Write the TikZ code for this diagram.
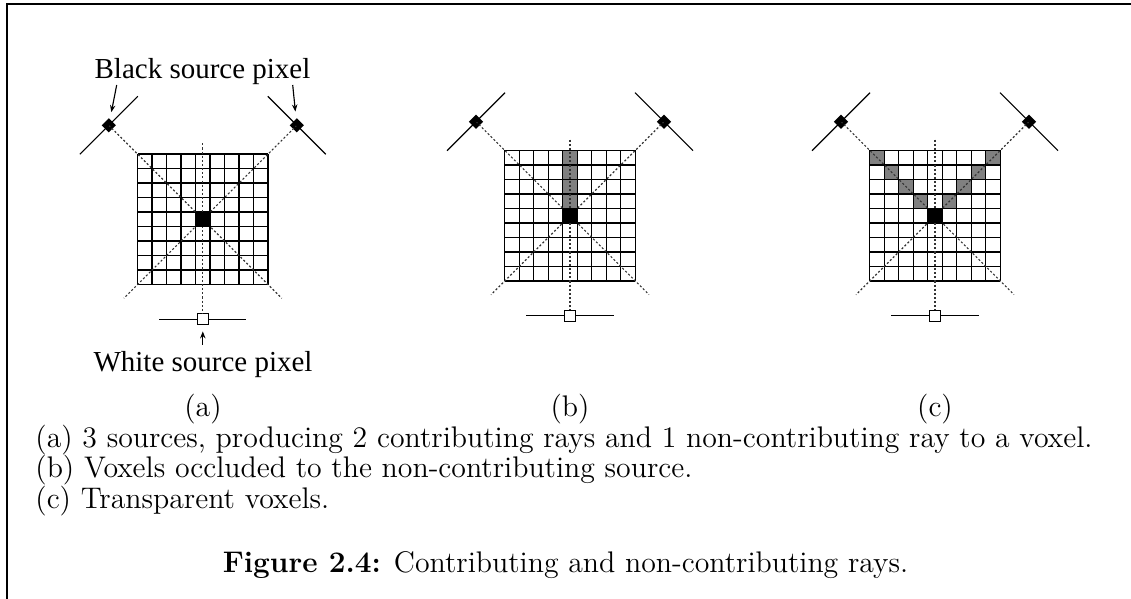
\documentclass[tikz,border=0pt]{standalone}
\usepackage{fontspec}
\newfontfamily\timesfont{Liberation Serif}
\usetikzlibrary{shapes.geometric,arrows.meta}
\tikzset{
  gridl/.style={line width=0.55pt,black},
  occ/.style={fill=black!50},
  ray/.style={line width=0.55pt,black!80,dash pattern=on 1pt off 1pt},
  srcline/.style={line width=0.55pt,black},
  blacksrc/.style={shape=diamond,fill=black,inner sep=0pt,minimum size=7pt},
  whitesrc/.style={shape=rectangle,draw=black,fill=white,line width=0.55pt,inner sep=0pt,minimum size=5.3pt},
  voxel/.style={shape=rectangle,fill=black,inner sep=0pt,minimum size=7pt},
  arr/.style={line width=0.55pt,-{Stealth[length=3.4pt,width=2.6pt]}},
  tlabel/.style={font=\timesfont\fontsize{14}{16}\selectfont,inner sep=0pt},
  captext/.style={font=\fontsize{14.4}{17}\selectfont,inner sep=0pt},
}
\newcommand\voxpanel[4]{%
\begin{scope}[shift={(#2,#3)}]
  \ifcase#4\or
    \fill[occ] (-7.25,-65.25) rectangle (7.25,-7.25);
  \or
    \foreach \i in {0,...,3} {
      \fill[occ] ({-65.25+\i*14.5},{-65.25+\i*14.5}) rectangle ++(14.5,14.5);
      \fill[occ] ({50.75-\i*14.5},{-65.25+\i*14.5}) rectangle ++(14.5,14.5);
    }
  \fi
  \foreach \gk in {0,...,9} {
    \draw[gridl] ({-65.25+\gk*14.5},-65.25) -- ({-65.25+\gk*14.5},65.25);
    \draw[gridl] (-65.25,{-65.25+\gk*14.5}) -- (65.25,{-65.25+\gk*14.5});
  }
  \coordinate (el#1) at (79,79);
  \coordinate (er#1) at (-79,79);
  \coordinate (vt#1) at (0,-76);
  \node[blacksrc] (l#1) at (-94,-94) {};
  \node[blacksrc] (r#1) at (94,-94) {};
  \node[whitesrc] (w#1) at (0,100) {};
  \draw[ray] (l#1.center) -- (el#1);
  \draw[ray] (r#1.center) -- (er#1);
  \draw[ray] (vt#1) -- (w#1.north);
  \node[voxel] (v#1) at (0,0) {};
  \draw[srcline] (l#1.center) ++(-29,29) -- ++(58,-58);
  \draw[srcline] (r#1.center) ++(-29,-29) -- ++(58,58);
  \draw[srcline] (w#1.west) -- ++(-37.5,0);
  \draw[srcline] (w#1.east) -- ++(37.5,0);
\end{scope}}
\begin{document}
\begin{tikzpicture}[x=0.4831pt,y=-0.4831pt]
\useasboundingbox (0,0) rectangle (1131,599);
\draw[line width=1.1pt,line join=miter] (6.8,620) -- (6.8,4.2) -- (1150,4.2);
\voxpanel{a}{202.8}{219.3}{0}
\voxpanel{b}{570}{215.7}{1}
\voxpanel{c}{935}{215.7}{2}
% labels of panel (a)
\node[tlabel,anchor=base] (blk) at (202.5,79) {Black source pixel};
\coordinate (blt) at (116.7,85);
\coordinate (brt) at (292.7,85);
\draw[arr,shorten >=3.3pt] (blt) -- (la);
\draw[arr,shorten >=3.3pt] (brt) -- (ra);
\node[tlabel,anchor=base] (wht) at (203,372) {White source pixel};
\coordinate (wtl) at (202.8,345);
\draw[arr,shorten >=2.9pt] (wtl) -- (wa.south);
% subfigure labels
\node[captext,anchor=base] (sa) at (203,417) {(a)};
\node[captext,anchor=base] (sb) at (570,417) {(b)};
\node[captext,anchor=base] (sc) at (935,417) {(c)};
\node[captext,anchor=base west] (c1) at (35,448) {(a) 3 sources, producing 2 contributing rays and 1 non-contributing ray to a voxel.};
\node[captext,anchor=base west] (c2) at (35,478) {(b) Voxels occluded to the non-contributing source.};
\node[captext,anchor=base west] (c3) at (35,508) {(c) Transparent voxels.};
\node[captext,anchor=base] (fig) at (565.5,572) {\textbf{Figure 2.4:} Contributing and non-contributing rays.};
\end{tikzpicture}
\end{document}
